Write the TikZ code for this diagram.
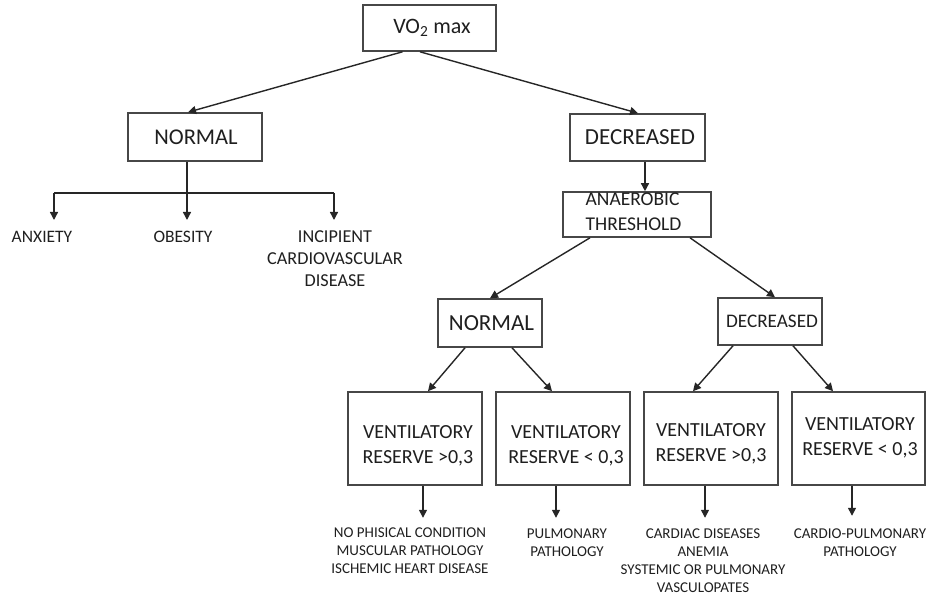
\documentclass[tikz,border=0pt]{standalone}
\usepackage{fontspec}
\setmainfont{Carlito}
\usetikzlibrary{arrows.meta,calc}
\begin{document}
\begin{tikzpicture}[x=1pt,y=-1pt,
  box/.style={draw=black!72, line width=1.6pt, fill=white, inner sep=0pt},
  boxtext/.style={inner sep=0pt, text=black!88},
  lbl/.style={align=center, inner sep=0pt, text=black!88, font=\fontsize{17.5}{22}\selectfont},
  sml/.style={align=center, inner sep=0pt, text=black!88, font=\fontsize{15}{18}\selectfont},
  vt/.style={boxtext, align=center, font=\fontsize{20}{25}\selectfont},
  link/.style={line width=1.4pt, draw=black!85},
  arr/.style={link, -{Triangle[length=8pt,width=8pt]}},
]
\useasboundingbox (0,0) rectangle (927,596);

% top level
\node[box, minimum width=133pt, minimum height=46pt] (vo2) at (429.5,28) {};
\node[boxtext, font=\fontsize{22}{26}\selectfont] (vo2t) at (432,28) {VO\textsubscript{2} max};

% second level
\node[box, minimum width=134pt, minimum height=48pt] (n1) at (195,137) {};
\node[boxtext, font=\fontsize{22.5}{27}\selectfont] (n1t) at (196,137) {NORMAL};
\node[box, minimum width=135pt, minimum height=47pt] (d1) at (637.5,137.5) {};
\node[boxtext, font=\fontsize{23}{27}\selectfont] (d1t) at (640,137.5) {DECREASED};

% anaerobic threshold
\node[box, minimum width=148pt, minimum height=45pt] (at) at (637,214.5) {};
\node[boxtext, align=left, font=\fontsize{19.5}{25}\selectfont] (att) at (633.5,212) {ANAEROBIC\\THRESHOLD};

% third level
\node[box, minimum width=104pt, minimum height=48pt] (n2) at (490,323) {};
\node[boxtext, font=\fontsize{23}{27}\selectfont] (n2t) at (491.5,323) {NORMAL};
\node[box, minimum width=104pt, minimum height=47pt] (d2) at (770,321.5) {};
\node[boxtext, font=\fontsize{19.2}{24}\selectfont] (d2t) at (772,321.5) {DECREASED};

% ventilatory reserve boxes
\node[box, minimum width=134pt, minimum height=93pt] (vA) at (415,438.5) {};
\node[box, minimum width=134pt, minimum height=93pt] (vB) at (563,438.5) {};
\node[box, minimum width=134pt, minimum height=93pt] (vC) at (711,438.5) {};
\node[box, minimum width=133pt, minimum height=93pt] (vD) at (858.5,438.5) {};
\node[vt] (vAt) at (418,445.5) {VENTILATORY\\RESERVE >0,3};
\node[vt] (vBt) at (566,445.5) {VENTILATORY\\RESERVE < 0,3};
\node[vt] (vCt) at (711,444) {VENTILATORY\\RESERVE >0,3};
\node[vt] (vDt) at (860,437.5) {VENTILATORY\\RESERVE < 0,3};

% outcomes of normal VO2 max
\node[lbl] (anx) at (42,237) {ANXIETY};
\node[lbl] (obe) at (183,237) {OBESITY};
\node[lbl, font=\fontsize{18.2}{22}\selectfont] (inc) at (335,259) {INCIPIENT\\CARDIOVASCULAR\\DISEASE};

% outcomes of ventilatory reserve
\node[sml] (oA) at (410,551) {NO PHISICAL CONDITION\\MUSCULAR PATHOLOGY\\ISCHEMIC HEART DISEASE};
\node[sml] (oB) at (567,542.5) {PULMONARY\\PATHOLOGY};
\node[sml] (oC) at (703,560.5) {CARDIAC DISEASES\\ANEMIA\\SYSTEMIC OR PULMONARY\\VASCULOPATES};
\node[sml] (oD) at (860,542.5) {CARDIO-PULMONARY\\PATHOLOGY};

% connectors
\draw[arr] ([xshift=-27pt]vo2.south) -- ([xshift=-7pt]n1.north);
\draw[arr] ([xshift=-9.5pt]vo2.south) -- ([xshift=0.5pt]d1.north);

\coordinate (jn) at (187,193);
\coordinate (jA) at (54,193);
\coordinate (jC) at (334,193);
\draw[link] ([xshift=-8pt]n1.south) -- (jn);
\draw[link] (jA) -- (jC);
\draw[arr] (jA) -- ++(0,27);
\draw[arr] (jn) -- ++(0,27);
\draw[arr] (jC) -- ++(0,27);

\draw[arr] ([xshift=7.5pt]d1.south) -- ([xshift=8pt]at.north);
\draw[arr] ([xshift=-47pt]at.south) -- (n2.north);
\draw[arr] ([xshift=53pt]at.south) -- ([xshift=5pt]d2.north);

\draw[arr] ([xshift=-25pt]n2.south) -- ([xshift=13pt]vA.north);
\draw[arr] ([xshift=22pt]n2.south) -- ([xshift=-11pt]vB.north);
\draw[arr] ([xshift=-37pt]d2.south) -- ([xshift=-18pt]vC.north);
\draw[arr] ([xshift=23pt]d2.south) -- ([xshift=-25.5pt]vD.north);

\draw[arr] ([xshift=8pt]vA.south) -- ++(0,32);
\draw[arr] ([xshift=-7pt]vB.south) -- ++(0,32);
\draw[arr] ([xshift=-6pt]vC.south) -- ++(0,32);
\draw[arr] ([xshift=-6.5pt]vD.south) -- ++(0,30);
\end{tikzpicture}
\end{document}
